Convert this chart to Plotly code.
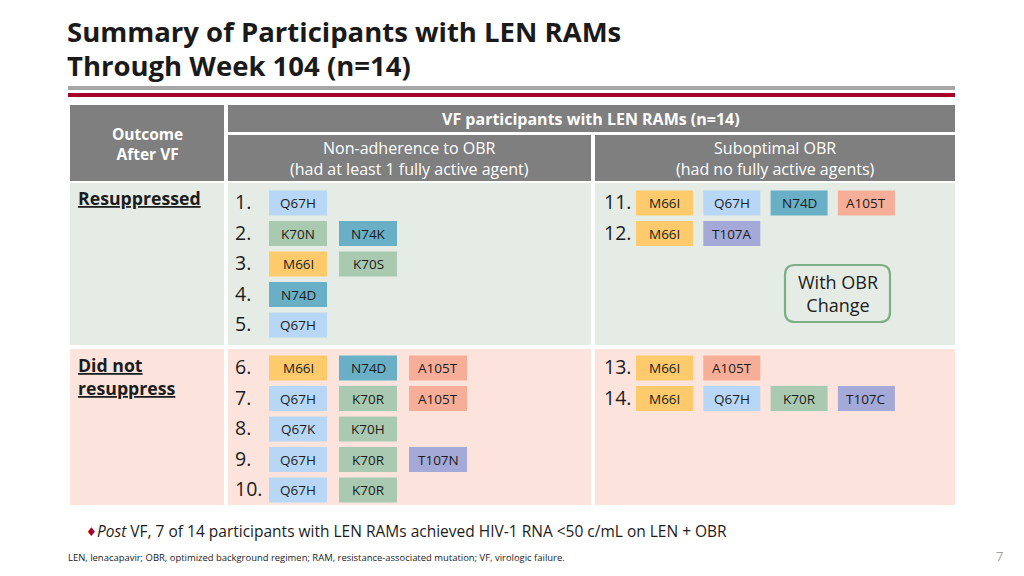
import plotly.graph_objects as go

# ---------------- data ----------------
participant_ids = list(range(1, 15))
participant_mutations = [
    ["Q67H"], ["K70N", "N74K"], ["M66I", "K70S"], ["N74D"], ["Q67H"],
    ["M66I", "N74D", "A105T"], ["Q67H", "K70R", "A105T"], ["Q67K", "K70H"],
    ["Q67H", "K70R", "T107N"], ["Q67H", "K70R"],
    ["M66I", "Q67H", "N74D", "A105T"], ["M66I", "T107A"],
    ["M66I", "A105T"], ["M66I", "Q67H", "K70R", "T107C"],
]
participant_outcome = ["res"] * 5 + ["nores"] * 5 + ["res"] * 2 + ["nores"] * 2
participant_group = ["nonadh"] * 10 + ["subopt"] * 4

outcome_labels = {"res": "<b><u>Resuppressed</u></b>",
                  "nores": "<b><u>Did not</u></b><br><b><u>resuppress</u></b>"}
group_headers = {"nonadh": "Non-adherence to OBR<br>(had at least 1 fully active agent)",
                 "subopt": "Suboptimal OBR<br>(had no fully active agents)"}
position_colors = {"M66": "#FFCA6C", "Q67": "#B8D7F6", "K70": "#A9C9B1",
                   "N74": "#69B0C6", "A105": "#F7AE98", "T107": "#A5A9D7"}

title_lines = ["Summary of Participants with LEN RAMs", "Through Week 104 (n=14)"]
top_header = "VF participants with LEN RAMs (n=14)"
first_header = "Outcome<br>After VF"
note_box = "With OBR<br>Change"
bullet_text = "<i>Post</i> VF, 7 of 14 participants with LEN RAMs achieved HIV-1 RNA &lt;50 c/mL on LEN + OBR"
footnote = "LEN, lenacapavir; OBR, optimized background regimen; RAM, resistance-associated mutation; VF, virologic failure."
page_number = "7"

# ---------------- layout geometry ----------------
FONT = "Open Sans, DejaVu Sans, sans-serif"
DARK = "#1c1c1c"
HEAD = "#7F7F7F"
row_bg = {"res": "#E5ECE6", "nores": "#FCE4DC"}
row_y = {"res": (183, 345), "nores": (349, 505)}
row_first = {"res": 203, "nores": 368}
col_x = {"nonadh": (228, 591), "subopt": (595, 955)}
num_x = {"nonadh": 233, "subopt": 602}
chip_start = {"nonadh": 298, "subopt": 664.5}
chip_step = {"nonadh": 70, "subopt": 67.3}
chip_w = {"nonadh": 58, "subopt": 57}
ROW_STEP = 30.5
CHIP_H = 25
PAGE_OFF = 8  # page body margin in the browser

shapes = []
ann = []

def rect(x0, y0, x1, y1, color, line=None, lw=0):
    shapes.append(dict(type="rect", xref="x", yref="y", x0=x0, y0=y0, x1=x1, y1=y1,
                       fillcolor=color, line=dict(color=line or color, width=lw), layer="below"))

def text(x, y, s, size, color=DARK, xa="left", ya="middle", bold=False, family=FONT):
    ann.append(dict(x=x, y=y, xref="x", yref="y", text=("<b>%s</b>" % s) if bold else s,
                    showarrow=False, xanchor=xa, yanchor=ya, align="center" if xa == "center" else "left",
                    font=dict(family=family, size=size, color=color)))

# title
text(65, 31, title_lines[0], 27.5, color="#1a1a1a", bold=True)
text(65, 65.5, title_lines[1], 27.5, color="#1a1a1a", bold=True)
# rules
rect(68, 86, 955, 90, "#A6A6A6")
rect(68, 93, 955, 97, "#A5002A")

# header
rect(70, 105, 224, 181, HEAD)
rect(228, 105, 955, 132, HEAD)
for g, (x0, x1) in col_x.items():
    rect(x0, 135, x1, 181, HEAD)
    text((x0 + x1) / 2, 158, group_headers[g], 16, color="white", xa="center")
text(591, 119, top_header, 16, color="white", xa="center", bold=True)
text(147, 143.5, first_header, 15.5, color="white", xa="center", bold=True)

# body backgrounds
for o, (y0, y1) in row_y.items():
    rect(70, y0, 224, y1, row_bg[o])
    for g, (x0, x1) in col_x.items():
        rect(x0, y0, x1, y1, row_bg[o])
text(76, 198, outcome_labels["res"], 17.7)
text(76, 376, outcome_labels["nores"], 17.7)

# participants
counters = {}
for pid, muts, o, g in zip(participant_ids, participant_mutations, participant_outcome, participant_group):
    k = counters.get((o, g), 0)
    counters[(o, g)] = k + 1
    yc = row_first[o] + k * ROW_STEP
    text(num_x[g], yc - 1.5, "%d." % pid, 19.5)
    for j, m in enumerate(muts):
        xc = chip_start[g] + j * chip_step[g]
        color = position_colors[m[:-1]]
        rect(xc - chip_w[g] / 2, yc - CHIP_H / 2, xc + chip_w[g] / 2, yc + CHIP_H / 2, color)
        text(xc, yc, m, 13.5, xa="center")

# "With OBR Change" box
shapes.append(dict(type="path", xref="x", yref="y",
                   path="M 795,265 L 880,265 Q 890,265 890,275 L 890,312 Q 890,322 880,322 "
                        "L 795,322 Q 785,322 785,312 L 785,275 Q 785,265 795,265 Z",
                   fillcolor=row_bg["res"], line=dict(color="#7DAE86", width=2.2)))
text(837.5, 293.5, note_box, 18, xa="center")

# bullet + footnotes
text(84, 531, "\u2666", 12, color="#A5002A")
text(95, 531, bullet_text, 15.5)
text(66, 557, footnote, 9.45)
text(1005, 556, page_number, 13, color="#A0A0A0", xa="right")

fig = go.Figure()
fig.update_layout(
    width=1024 - PAGE_OFF, height=576 - PAGE_OFF,
    margin=dict(l=0, r=0, t=0, b=0, pad=0),
    paper_bgcolor="white", plot_bgcolor="white",
    xaxis=dict(range=[PAGE_OFF, 1024], visible=False, fixedrange=True),
    yaxis=dict(range=[576, PAGE_OFF], visible=False, fixedrange=True),
    shapes=shapes, annotations=ann, showlegend=False,
)
fig.write_html("out.html")
